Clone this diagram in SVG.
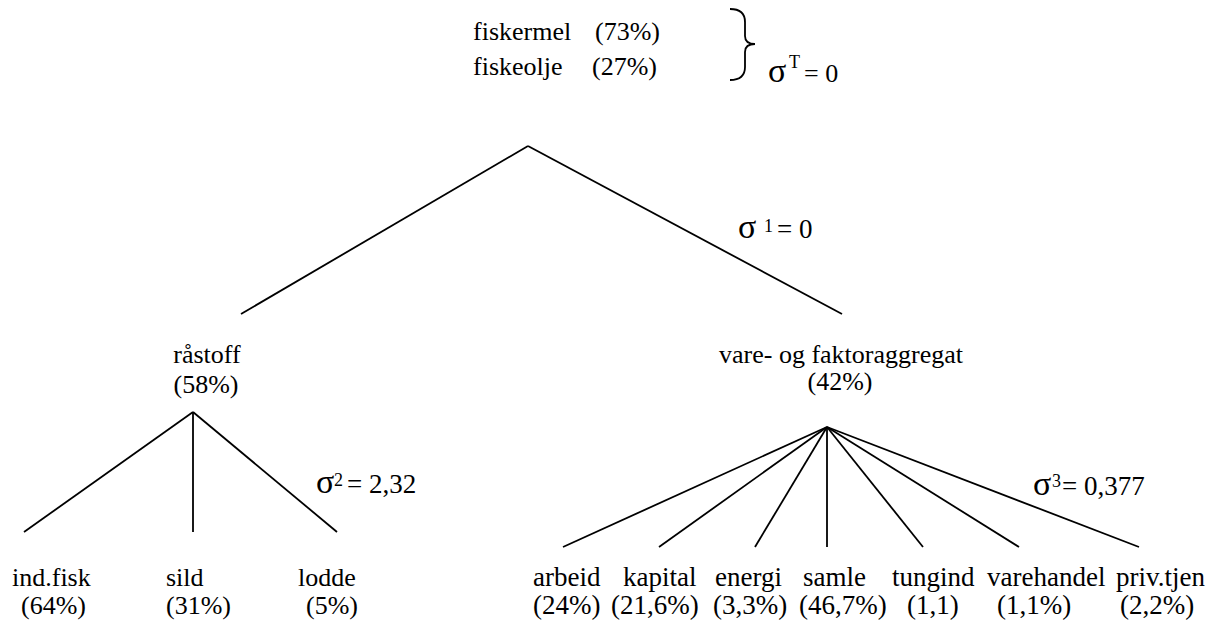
<svg xmlns="http://www.w3.org/2000/svg" width="1217" height="625" viewBox="0 0 1217 625" font-family="Times New Roman, Liberation Serif, serif">
<defs>
<path id="brace" d="M730,9 Q745,9 745,22 L745,36 Q745,44 755,44 Q745,44 745,52 L745,67 Q745,80 730,80"/>
</defs>
<rect width="1217" height="625" fill="#fff"/>
<g id="top" fill="#000" font-family="Times New Roman, Liberation Serif, serif">
<text font-family="Times New Roman, Liberation Serif, serif" font-size="26" x="473" y="40">fiskermel</text>
<text font-family="Times New Roman, Liberation Serif, serif" font-size="26" x="595" y="40">(73%)</text>
<text font-family="Times New Roman, Liberation Serif, serif" font-size="26" x="473" y="75">fiskeolje</text>
<text font-family="Times New Roman, Liberation Serif, serif" font-size="26" x="592" y="75">(27%)</text>
<use href="#brace" stroke="#000" stroke-width="1.8" fill="none"/>
<text font-family="Times New Roman, Liberation Serif, serif" font-size="34" x="768" y="82">σ</text>
<text font-family="Times New Roman, Liberation Serif, serif" font-size="18" x="789" y="68">T</text>
<text font-family="Times New Roman, Liberation Serif, serif" font-size="26" x="804" y="82">= 0</text>
</g>
<g id="connectors" stroke="#000" stroke-width="1.8" fill="none">
<line x1="528" y1="146" x2="241" y2="314"/>
<line x1="528" y1="146" x2="842" y2="314"/>
<line x1="193" y1="412" x2="24" y2="532"/>
<line x1="193" y1="412" x2="193" y2="532"/>
<line x1="193" y1="412" x2="337" y2="532"/>
<line x1="827" y1="427" x2="563" y2="547"/>
<line x1="827" y1="427" x2="659" y2="547"/>
<line x1="827" y1="427" x2="755" y2="547"/>
<line x1="827" y1="427" x2="827" y2="547"/>
<line x1="827" y1="427" x2="923" y2="547"/>
<line x1="827" y1="427" x2="1019" y2="547"/>
<line x1="827" y1="427" x2="1139" y2="547"/>
</g>
<g id="sigma1" font-family="Times New Roman, Liberation Serif, serif"><text font-family="Times New Roman, Liberation Serif, serif" font-size="34" x="738" y="238">σ</text><text font-family="Times New Roman, Liberation Serif, serif" font-size="18" x="764" y="232">1</text><text font-family="Times New Roman, Liberation Serif, serif" font-size="27" x="777" y="238">= 0</text></g>
<g id="sigma2" font-family="Times New Roman, Liberation Serif, serif"><text font-family="Times New Roman, Liberation Serif, serif" font-size="34" x="316" y="493">σ</text><text font-family="Times New Roman, Liberation Serif, serif" font-size="18" x="334" y="486">2</text><text font-family="Times New Roman, Liberation Serif, serif" font-size="27" x="347" y="493">= 2,32</text></g>
<g id="sigma3" font-family="Times New Roman, Liberation Serif, serif"><text font-family="Times New Roman, Liberation Serif, serif" font-size="34" x="1033" y="495">σ</text><text font-family="Times New Roman, Liberation Serif, serif" font-size="18" x="1052" y="487">3</text><text font-family="Times New Roman, Liberation Serif, serif" font-size="27" x="1062" y="495">= 0,377</text></g>
<g id="raastoff" font-family="Times New Roman, Liberation Serif, serif"><text font-family="Times New Roman, Liberation Serif, serif" font-size="26" text-anchor="middle" x="207" y="363">råstoff</text><text font-family="Times New Roman, Liberation Serif, serif" font-size="26" text-anchor="middle" x="206" y="393">(58%)</text></g>
<g id="vare" font-family="Times New Roman, Liberation Serif, serif"><text font-family="Times New Roman, Liberation Serif, serif" font-size="26" text-anchor="middle" x="841" y="363">vare- og faktoraggregat</text><text font-family="Times New Roman, Liberation Serif, serif" font-size="26" text-anchor="middle" x="840" y="390">(42%)</text></g>
<g id="indfisk" font-family="Times New Roman, Liberation Serif, serif"><text font-family="Times New Roman, Liberation Serif, serif" font-size="26" x="12" y="586">ind.fisk</text><text font-family="Times New Roman, Liberation Serif, serif" font-size="26" x="21" y="614">(64%)</text></g>
<g id="sild" font-family="Times New Roman, Liberation Serif, serif"><text font-family="Times New Roman, Liberation Serif, serif" font-size="26" x="166" y="586">sild</text><text font-family="Times New Roman, Liberation Serif, serif" font-size="26" x="166" y="614">(31%)</text></g>
<g id="lodde" font-family="Times New Roman, Liberation Serif, serif"><text font-family="Times New Roman, Liberation Serif, serif" font-size="26" x="298" y="586">lodde</text><text font-family="Times New Roman, Liberation Serif, serif" font-size="26" x="306" y="614">(5%)</text></g>
<g id="arbeid" font-family="Times New Roman, Liberation Serif, serif"><text font-family="Times New Roman, Liberation Serif, serif" font-size="27" x="533" y="586">arbeid</text><text font-family="Times New Roman, Liberation Serif, serif" font-size="27" x="533" y="614">(24%)</text></g>
<g id="kapital" font-family="Times New Roman, Liberation Serif, serif"><text font-family="Times New Roman, Liberation Serif, serif" font-size="27" x="623" y="586">kapital</text><text font-family="Times New Roman, Liberation Serif, serif" font-size="27" x="611" y="614">(21,6%)</text></g>
<g id="energi" font-family="Times New Roman, Liberation Serif, serif"><text font-family="Times New Roman, Liberation Serif, serif" font-size="27" x="715" y="586">energi</text><text font-family="Times New Roman, Liberation Serif, serif" font-size="27" x="713" y="614">(3,3%)</text></g>
<g id="samle" font-family="Times New Roman, Liberation Serif, serif"><text font-family="Times New Roman, Liberation Serif, serif" font-size="27" x="803" y="586">samle</text><text font-family="Times New Roman, Liberation Serif, serif" font-size="27" x="799" y="614">(46,7%)</text></g>
<g id="tungind" font-family="Times New Roman, Liberation Serif, serif"><text font-family="Times New Roman, Liberation Serif, serif" font-size="27" x="892" y="586">tungind</text><text font-family="Times New Roman, Liberation Serif, serif" font-size="27" x="907" y="614">(1,1)</text></g>
<g id="varehandel" font-family="Times New Roman, Liberation Serif, serif"><text font-family="Times New Roman, Liberation Serif, serif" font-size="27" x="987" y="586">varehandel</text><text font-family="Times New Roman, Liberation Serif, serif" font-size="27" x="997" y="614">(1,1%)</text></g>
<g id="privtjen" font-family="Times New Roman, Liberation Serif, serif"><text font-family="Times New Roman, Liberation Serif, serif" font-size="27" x="1116" y="586">priv.tjen</text><text font-family="Times New Roman, Liberation Serif, serif" font-size="27" x="1120" y="614">(2,2%)</text></g>
</svg>
